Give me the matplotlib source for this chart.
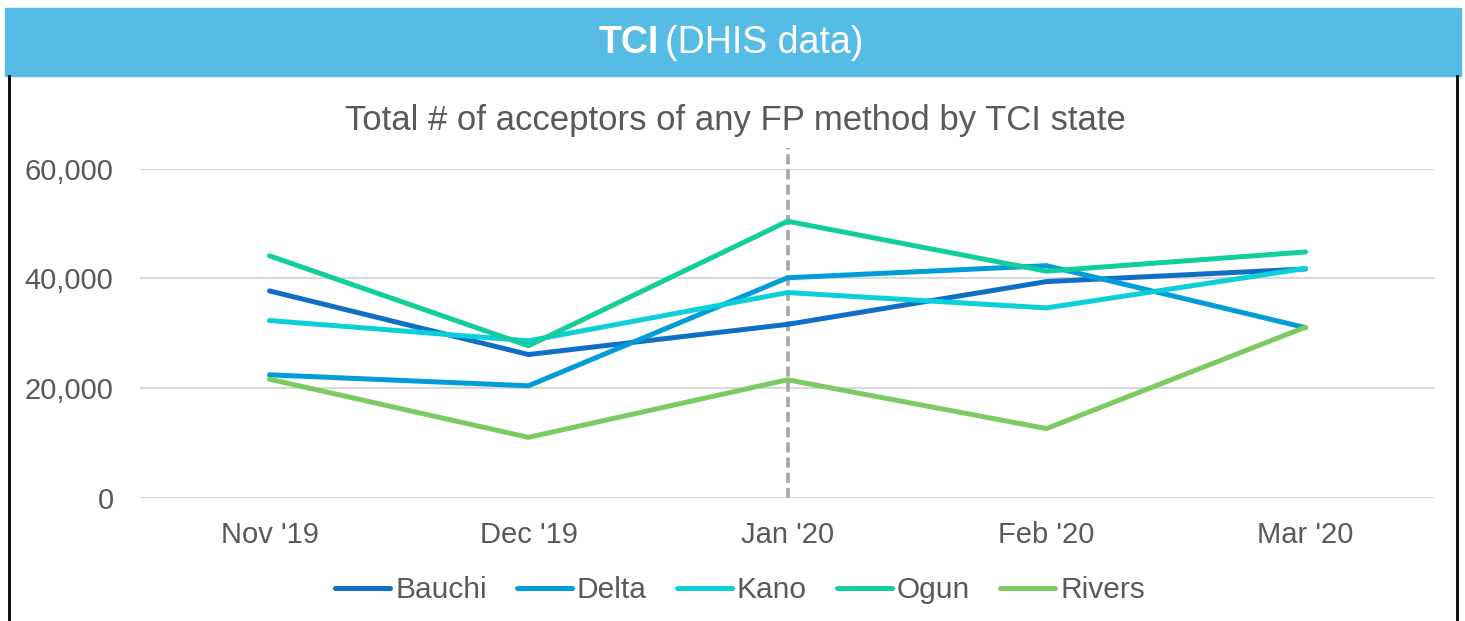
import matplotlib.pyplot as plt
from matplotlib.patches import Rectangle
from matplotlib.lines import Line2D

plt.rcParams['font.family'] = ['Liberation Sans', 'DejaVu Sans']

# data
months = ["Nov '19", "Dec '19", "Jan '20", "Feb '20", "Mar '20"]
bauchi = [37700, 26100, 31600, 39400, 41700]
delta = [22400, 20400, 40100, 42300, 31000]
kano = [32300, 28600, 37400, 34600, 41800]
ogun = [44100, 27700, 50400, 41300, 44800]
rivers = [21600, 11000, 21500, 12600, 31100]

series = [('Bauchi', bauchi, '#0F6FC6'),
          ('Delta', delta, '#009DD9'),
          ('Kano', kano, '#0BD0D9'),
          ('Ogun', ogun, '#10CF9B'),
          ('Rivers', rivers, '#7CCA62')]

fig = plt.figure(figsize=(14.65, 6.21), dpi=100)

# header bar
fig.patches.append(Rectangle((5 / 1465, 1 - 76 / 621), 1456 / 1465, 68 / 621,
                             transform=fig.transFigure, color='#56BBE5', zorder=0))
hdr = fig.text(599 / 1465, 1 - 43 / 621, 'TCI', ha='left', va='center',
               fontsize=27, fontweight='bold', color='white')
fig.canvas.draw()
bb = hdr.get_window_extent()
fig.text(bb.x1 / 1465 + 0.004, 1 - 43 / 621, '(DHIS data)', ha='left', va='center',
         fontsize=27, color='white')

# border
for x in (8.5 / 1465, 1457 / 1465):
    fig.add_artist(Line2D([x, x], [0, 1 - 76 / 621], transform=fig.transFigure,
                          color='black', lw=2))

ax = fig.add_axes([140 / 1465, 1 - 497.7 / 621, 1295 / 1465, 329.1 / 621])
x = list(range(len(months)))
for name, vals, c in series:
    ax.plot(x, vals, color=c, lw=3.6, label=name, solid_capstyle='round', zorder=3)

ax.axvline(2, ymin=0, ymax=(497.7 - 148) / 329.1, color='#A6A6A6', lw=2.6,
           ls=(0, (2.8, 1.4)), clip_on=False, zorder=2)

ax.set_xlim(-0.5, 4.5)
ax.set_ylim(0, 60000)
ax.set_yticks([0, 20000, 40000, 60000])
ax.set_yticklabels(['0', '20,000', '40,000', '60,000'])
ax.set_xticks(x)
ax.set_xticklabels(months)
ax.grid(axis='y', color='#D9D9D9', lw=1.5)
ax.set_axisbelow(True)
for s in ax.spines.values():
    s.set_visible(False)
ax.tick_params(length=0, labelsize=21, colors='#595959')
ax.tick_params(axis='y', pad=19)
ax.tick_params(axis='x', pad=17)

ax.set_title('Total # of acceptors of any FP method by TCI state', fontsize=25,
             color='#595959', pad=28, x=(735 - 140) / 1295)

ax.legend(loc='center', bbox_to_anchor=(740 / 1465, 1 - 590 / 621),
          bbox_transform=fig.transFigure, ncol=5, frameon=False, fontsize=21.5,
          handlelength=1.85, handletextpad=0.17, columnspacing=1.0,
          labelcolor='#595959')

fig.savefig('out.png', dpi=100)
